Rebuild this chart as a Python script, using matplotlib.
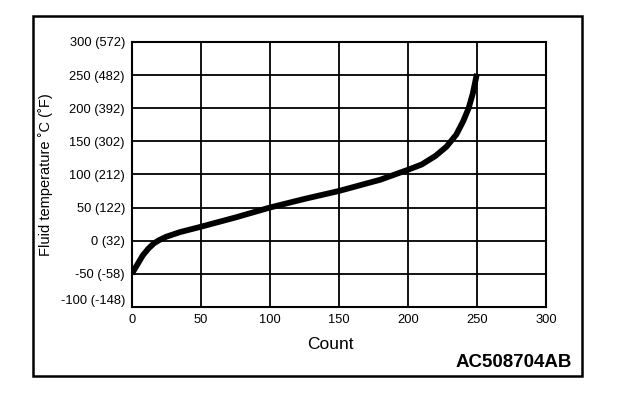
import matplotlib.pyplot as plt
from matplotlib.patches import Rectangle

plt.rcParams['font.family'] = ['Liberation Sans', 'DejaVu Sans']

# values
count = [0, 4, 8, 12, 16, 20, 25, 35, 50, 75, 100, 125, 150, 180, 200,
         210, 220, 228, 235, 240, 244, 247, 250]
temp = [-50, -36, -22, -12, -4, 1, 6, 13, 21, 35, 50, 63, 75, 92, 107,
        115, 128, 142, 160, 180, 200, 222, 252]

x_ticks = [0, 50, 100, 150, 200, 250, 300]
y_ticks = [-100, -50, 0, 50, 100, 150, 200, 250, 300]
y_labels = ['-100 (-148)', '-50 (-58)', '0 (32)', '50 (122)', '100 (212)',
            '150 (302)', '200 (392)', '250 (482)', '300 (572)']

fig = plt.figure(figsize=(6.4, 3.96), dpi=100)
ax = fig.add_axes([0.206, 0.225, 0.647, 0.669])

ax.plot(count, temp, color='black', linewidth=4.2, solid_capstyle='butt')

ax.set_xlim(0, 300)
ax.set_ylim(-100, 300)
ax.set_xticks(x_ticks)
ax.set_yticks(y_ticks)
ax.set_yticklabels(y_labels)
ax.tick_params(length=0, labelsize=9.3, pad=5)
ax.grid(True, color='black', linewidth=1.3)
ax.set_axisbelow(True)
for s in ax.spines.values():
    s.set_linewidth(1.5)

# lowest label sits a little above its line
ax.get_yticklabels()[0].set_va('bottom')

ax.set_xlabel('Count', fontsize=12.5)
ax.xaxis.set_label_coords(0.48, -0.115)
ax.set_ylabel('Fluid temperature \u02daC (\u02daF)', fontsize=10.5)
ax.yaxis.set_label_coords(-0.19, 0.5)

# outer frame and drawing code
fig.patches.append(Rectangle((0.052, 0.051), 0.857, 0.909, transform=fig.transFigure,
                             fill=False, edgecolor='black', linewidth=1.8))
fig.text(0.894, 0.085, 'AC508704AB', fontsize=13.5, fontweight='bold',
         ha='right', va='center')

fig.savefig('out.png', dpi=100)
